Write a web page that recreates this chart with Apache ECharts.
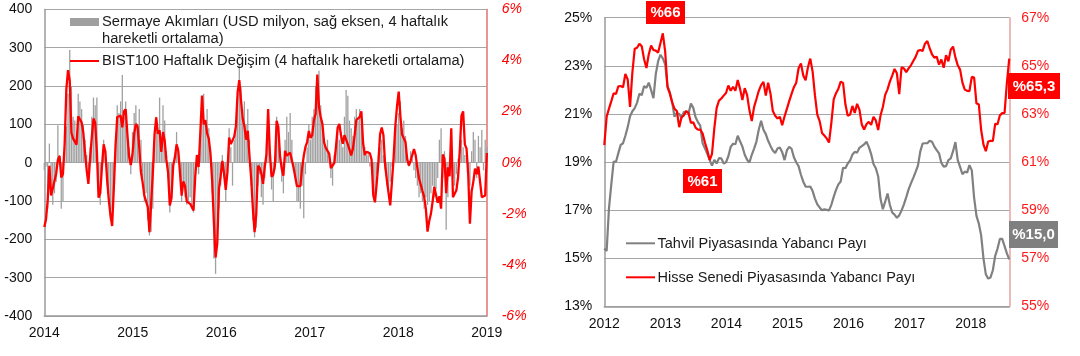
<!DOCTYPE html>
<html><head><meta charset="utf-8">
<script src="https://cdn.jsdelivr.net/npm/echarts@6/dist/echarts.min.js"></script>
<style>html,body{margin:0;padding:0;background:#fff}#c{width:1080px;height:356px}</style>
</head><body><div id="c"></div>
<script>
// ---------- LEFT PANEL: weekly, from first week of 2014 ----------
const leftStartYear = 2014;
const leftYearTicks = ['2014','2015','2016','2017','2018','2019'];
// Capital flows, USD mn (4-week moving average)
const leftFlows = [
-20,-10,-120,50,-60,-110,-80,-50,98,20,-120,-100,40,
95,180,294,200,120,110,60,180,160,140,100,60,20,-20,40,120,170,150,
170,-60,-110,-20,60,30,-60,-110,-150,-120,-40,
60,150,130,160,229,120,160,100,40,-30,80,130,150,90,
140,60,-40,-100,-80,-150,-190,-180,-120,40,120,
80,170,60,150,110,30,-40,-130,-100,-20,20,80,40,-30,-100,
-60,-90,-110,-100,-90,-120,-130,-60,20,-30,60,
130,180,110,140,90,40,
-80,-250,-290,-220,-120,-60,20,-40,
-100,-30,90,40,-60,60,100,180,
255,200,140,160,100,140,60,
-60,-150,-195,-170,-60,-30,-90,
-110,-40,50,110,40,-70,-100,-20,120,90,
30,-50,-80,60,120,80,130,60,-20,-40,-100,-100,-120,-60,
-145,-30,40,100,60,120,140,200,190,240,150,110,60,
40,60,20,-40,-60,20,50,90,60,80,40,120,190,175,110,90,70,120,140,110,140,100,60,
40,20,30,-10,-20,-60,-80,-30,20,40,60,20,-20,-60,-70,-50,-10,40,
80,100,130,160,90,110,70,20,-10,
30,10,-20,-40,-60,-90,-80,-100,-120,-90,-110,-100,-80,-60,-90,-70,-40,60,90,-40,30,-175,-90,-30,30,-40,-60,-30,10,40,60,40,20,10,-30,
-60,30,80,60,-40,70,40,85,-20,60,40
];
// BIST100 weekly change, % (4-week moving average)
const leftBist = [
-2.52,-2.22,-1.48,-0.12,-1.28,-1.27,-0.72,-0.43,0.11,0.26,
-0.58,-0.44,0.73,2.88,3.62,3.21,1.17,0.94,0.99,0.71,
1.82,1.70,1.58,1.19,0.41,-0.30,-0.83,0.18,0.99,1.73,
1.57,0.44,-1.37,-1.19,-0.16,0.72,0.44,-0.62,-1.43,-2.05,
-2.48,-1.01,0.65,1.79,1.82,1.84,1.38,2.01,2.09,1.11,
0.25,-0.09,0.32,1.13,1.52,1.43,0.59,-0.37,-0.78,-1.29,
-1.34,-1.73,-2.72,-1.61,-0.42,1.10,1.77,1.13,1.27,0.42,
1.20,0.86,0.11,-0.39,-1.67,-1.38,-0.12,0.21,0.72,0.47,
-0.38,-1.29,
-0.73,-0.92,-1.52,-1.59,-1.61,-1.68,-1.87,-0.56,0.30,-0.17,
1.16,2.63,1.50,1.67,1.15,0.94,0.35,-0.72,-2.33,-3.71,
-3.17,-1.02,-0.53,0.07,-0.43,-1.06,-0.37,0.98,0.73,0.76,
1.02,1.43,2.75,3.23,2.45,1.73,1.43,0.90,1.25,0.25,
-0.62,-1.80,-2.72,-2.01,-0.12,-0.20,-0.43,-0.83,-0.17,0.32,
2.10,0.42,-0.55,-0.47,-0.11,1.64,1.40,0.28,-0.23,-0.51,
0.46,0.28,0.34,0.39,0.35,-0.20,-0.14,-0.92,-0.94,-0.92,
-0.23,0.26,0.62,0.81,1.24,0.97,1.08,1.66,1.92,3.45,
2.18,1.79,1.52,0.80,
0.58,0.55,0.35,-0.21,-0.25,-0.02,0.62,1.37,1.52,1.06,
0.74,1.08,1.08,0.72,0.51,0.28,0.55,1.07,1.67,1.73,
1.79,2.01,0.77,0.30,0.43,0.43,0.37,0.12,-1.27,-1.55,
-0.83,-0.02,1.11,1.38,1.07,-0.09,-0.67,-1.18,-1.67,-0.76,
0.20,1.43,2.21,2.78,1.82,1.10,1.03,0.81,0.14,-0.11,
0.07,0.12,0.53,0.30,-0.20,-0.62,-0.59,-1.11,-1.33,-1.80,
-2.70,-2.28,-2.00,-1.52,-0.95,-0.92,-1.57,-1.31,-1.80,0.32,
0.16,-1.19,-0.18,-0.53,1.35,-1.35,-1.37,-1.08,-0.58,0.46,
1.84,2.01,0.72,0.55,-0.48,-2.39,-1.13,-0.75,-0.23,-0.45,
-0.15,-0.75,-1.35,-1.35,-1.28,0.38
];

// ---------- RIGHT PANEL: every two weeks, from start of 2012 ----------
const rightStartYear = 2012;
const rightYearTicks = ['2012','2013','2014','2015','2016','2017','2018'];
// Foreign share in bond market, %
const rightBond = [
15.40,15.30,17.08,18.08,19.02,19.01,19.37,19.71,19.78,20.09,
20.45,20.90,21.11,21.24,21.47,21.84,21.78,22.16,22.08,22.30,
21.99,21.65,22.66,23.19,23.46,23.31,23.06,22.16,21.90,21.48,
20.88,21.04,21.00,20.83,21.08,21.10,21.03,21.43,21.25,20.86,
20.66,20.51,19.78,19.57,19.34,19.09,18.85,19.09,18.94,19.16,
19.15,18.94,18.99,19.24,19.63,19.76,19.74,20.09,19.86,19.64,
19.30,19.09,18.98,19.30,19.56,19.85,20.35,20.71,20.34,20.16,
19.88,19.67,19.48,19.37,19.56,19.60,19.41,19.08,19.48,19.63,
19.55,19.20,18.99,18.83,
18.47,18.18,17.98,17.97,17.98,17.79,17.48,17.24,17.11,16.99,
17.03,17.01,16.99,17.22,17.55,17.84,18.07,18.19,18.76,18.74,
18.94,19.06,19.31,19.42,19.39,19.59,19.66,19.73,19.84,19.63,
19.33,18.92,18.74,18.41,17.47,17.04,17.35,17.69,17.22,16.90,
16.81,16.68,16.78,16.99,17.24,17.54,17.86,18.11,18.34,18.59,
18.85,19.44,19.77,19.78,19.78,19.88,19.84,19.64,19.49,19.36,
18.96,18.81,18.83,19.08,19.15,19.45,19.83,19.08,18.80,18.49,
18.60,18.56,18.87,18.65,17.51,16.76,16.44,15.95,14.98,14.33,
14.15,14.20,14.50,15.10,15.40,15.80,15.80,15.50,15.20,14.95
];
// Foreign share in equity market, %
const rightEquity = [
61.70,62.88,63.22,63.53,63.86,63.83,64.15,64.16,64.11,64.66,
64.43,63.29,64.73,65.71,65.75,65.92,65.81,65.27,64.91,65.48,
65.84,65.66,65.63,65.55,65.95,66.35,65.60,64.11,63.84,63.48,
63.21,63.12,62.45,62.86,62.94,63.12,63.03,62.63,62.65,62.43,
62.34,62.35,62.18,61.81,61.49,61.08,61.33,62.40,63.25,63.55,
63.64,63.76,63.87,64.18,63.96,64.13,63.96,64.41,64.04,63.58,
64.07,63.79,63.15,62.70,63.29,63.62,63.96,64.20,64.33,63.76,
64.30,63.84,63.12,62.92,62.81,62.88,62.53,62.89,63.21,63.53,
63.83,64.11,64.30,64.90,
65.10,64.60,64.40,64.94,65.30,64.76,63.77,62.97,62.70,62.21,
62.10,61.98,61.81,62.63,63.60,63.86,64.05,64.34,64.29,63.40,
62.92,62.97,63.33,63.04,63.42,63.18,62.56,62.35,62.57,62.67,
62.54,62.88,62.73,62.33,62.93,63.29,63.79,64.02,64.34,64.59,
64.87,64.69,63.82,64.94,64.89,64.73,64.89,65.02,65.20,65.37,
65.62,65.66,65.62,65.92,66.03,65.73,65.48,65.34,65.38,65.05,
65.26,64.92,65.44,65.19,65.67,65.80,65.35,65.02,64.84,64.30,
64.01,63.96,63.95,64.54,64.51,63.43,63.40,62.33,61.72,61.45,
61.85,61.88,61.88,62.59,62.57,62.94,63.03,63.04,64.30,65.30
];

const legendLeft = ['Sermaye Akımları (USD milyon, sağ eksen, 4 haftalık', 'hareketli ortalama)', 'BIST100 Haftalık Değişim (4 haftalık hareketli ortalama)'];
const legendRight = ['Tahvil Piyasasında Yabancı Payı', 'Hisse Senedi Piyasasında Yabancı Payı'];
const callouts = ['%66', '%61', '%65,3', '%15,0'];

// x positions from the sampling dates (weekly / bi-weekly)
const leftX = leftBist.map((_, i) => leftStartYear + (7 * i) / 365.25);
const rightX = rightBond.map((_, i) => rightStartYear + (14 * i) / 365.25);

const FONT = '"Liberation Sans", Arial, sans-serif';
const chart = echarts.init(document.getElementById('c'));

function txt(text, x, y, size, color, extra) {
  return Object.assign({
    type: 'text', z: 100,
    style: { text: text, x: x, y: y, fill: color, font: size + 'px ' + FONT,
      align: 'left', verticalAlign: 'middle', textAlign: 'left', textVerticalAlign: 'middle' }
  }, extra || {});
}
function box(label, x, y, w, h, fill) {
  return [
    { type: 'rect', z: 100, shape: { x: x, y: y, width: w, height: h }, style: { fill: fill } },
    { type: 'text', z: 101, style: { text: label, x: x + w / 2, y: y + h / 2 + 0.5, fill: '#fff',
      font: 'bold 15px ' + FONT, align: 'center', verticalAlign: 'middle', textAlign: 'center', textVerticalAlign: 'middle' } }
  ];
}

const gridGray = '#a6a6a6';
const option = {
  animation: false,
  textStyle: { fontFamily: FONT },
  grid: [
    { left: 44.3, top: 9.4, width: 442.4, height: 306.6 },
    { left: 604.3, top: 17.7, width: 405, height: 288.6 }
  ],
  xAxis: [
    { gridIndex: 0, type: 'value', min: 2014, max: 2019, interval: 1,
      axisLine: { show: true, onZero: false, lineStyle: { color: '#9a9a9a', width: 1.5 } },
      axisTick: { show: false }, splitLine: { show: false },
      axisLabel: { fontSize: 14, color: '#111', margin: 10, fontFamily: FONT,
        formatter: v => { const k = Math.round(v - leftStartYear); return leftYearTicks[k] || ''; } } },
    { gridIndex: 1, type: 'value', min: 2012, max: 2018.632, interval: 1,
      axisLine: { show: true, onZero: false, lineStyle: { color: '#9a9a9a', width: 1.5 } },
      axisTick: { show: false }, splitLine: { show: false },
      axisLabel: { fontSize: 14, color: '#111', margin: 11, fontFamily: FONT, showMaxLabel: false,
        formatter: v => Number.isInteger(v) ? (rightYearTicks[v - rightStartYear] || '') : '' } }
  ],
  yAxis: [
    { gridIndex: 0, type: 'value', min: -400, max: 400, interval: 100, position: 'left',
      axisLine: { show: true, lineStyle: { color: '#9a9a9a', width: 1.5 } }, axisTick: { show: false },
      splitLine: { show: true, lineStyle: { color: gridGray, width: 1.2 } },
      axisLabel: { fontSize: 14, color: '#111', margin: 12, fontFamily: FONT } },
    { gridIndex: 0, type: 'value', min: -6, max: 6, interval: 2, position: 'right',
      axisLine: { show: true, lineStyle: { color: '#e07272', width: 1.5 } }, axisTick: { show: false },
      splitLine: { show: false },
      axisLabel: { fontSize: 14, color: '#ff0000', fontStyle: 'italic', margin: 15, fontFamily: FONT, formatter: v => v + '%' } },
    { gridIndex: 1, type: 'value', min: 13, max: 25, interval: 2, position: 'left',
      axisLine: { show: true, lineStyle: { color: '#9a9a9a', width: 1.5 } }, axisTick: { show: false },
      splitLine: { show: true, lineStyle: { color: gridGray, width: 1.2 } },
      axisLabel: { fontSize: 14, color: '#111', margin: 12, fontFamily: FONT, formatter: v => v + '%' } },
    { gridIndex: 1, type: 'value', min: 55, max: 67, interval: 2, position: 'right',
      axisLine: { show: true, lineStyle: { color: '#e6a3a3', width: 1.5 } }, axisTick: { show: false },
      splitLine: { show: false },
      axisLabel: { fontSize: 14, color: '#ff1a1a', margin: 12, fontFamily: FONT, formatter: v => v + '%' } }
  ],
  series: [
    { name: legendLeft[0], type: 'bar', xAxisIndex: 0, yAxisIndex: 0, barWidth: 1.3, clip: false,
      itemStyle: { color: '#a0a0a0' }, data: leftX.map((x, i) => [x, leftFlows[i]]) },
    { name: legendLeft[2], type: 'line', xAxisIndex: 0, yAxisIndex: 1, showSymbol: false, clip: false,
      lineStyle: { color: '#ff0000', width: 2.3 }, data: leftX.map((x, i) => [x, leftBist[i]]) },
    { name: legendRight[0], type: 'line', xAxisIndex: 1, yAxisIndex: 2, showSymbol: false,
      lineStyle: { color: '#808080', width: 2.2 }, data: rightX.map((x, i) => [x, rightBond[i]]) },
    { name: legendRight[1], type: 'line', xAxisIndex: 1, yAxisIndex: 3, showSymbol: false,
      lineStyle: { color: '#ff0000', width: 2.2 }, data: rightX.map((x, i) => [x, rightEquity[i]]) }
  ],
  graphic: [
    { type: 'rect', z: 100, shape: { x: 70, y: 18, width: 29, height: 8 }, style: { fill: '#a0a0a0' } },
    txt(legendLeft[0], 102, 22, 14.7, '#1a1a1a'),
    txt(legendLeft[1], 102, 39, 14.7, '#1a1a1a'),
    { type: 'line', z: 100, shape: { x1: 70, y1: 61, x2: 99, y2: 61 }, style: { stroke: '#ff0000', lineWidth: 2 } },
    txt(legendLeft[2], 102, 61, 14.7, '#1a1a1a'),
    { type: 'line', z: 100, shape: { x1: 626, y1: 243.3, x2: 655, y2: 243.3 }, style: { stroke: '#808080', lineWidth: 2 } },
    txt(legendRight[0], 657.5, 243.5, 14.5, '#1a1a1a'),
    { type: 'line', z: 100, shape: { x1: 626, y1: 277.3, x2: 655, y2: 277.3 }, style: { stroke: '#ff0000', lineWidth: 2 } },
    txt(legendRight[1], 657.5, 277.5, 14.5, '#1a1a1a')
  ].concat(box(callouts[0], 646, 1, 39, 23, '#ff0000'))
   .concat(box(callouts[1], 683, 169, 39, 24, '#ff0000'))
   .concat(box(callouts[2], 1008, 73, 52, 26, '#ff0000'))
   .concat(box(callouts[3], 1009, 221, 49, 27, '#7f7f7f'))
};
chart.setOption(option);
</script>
</body></html>
